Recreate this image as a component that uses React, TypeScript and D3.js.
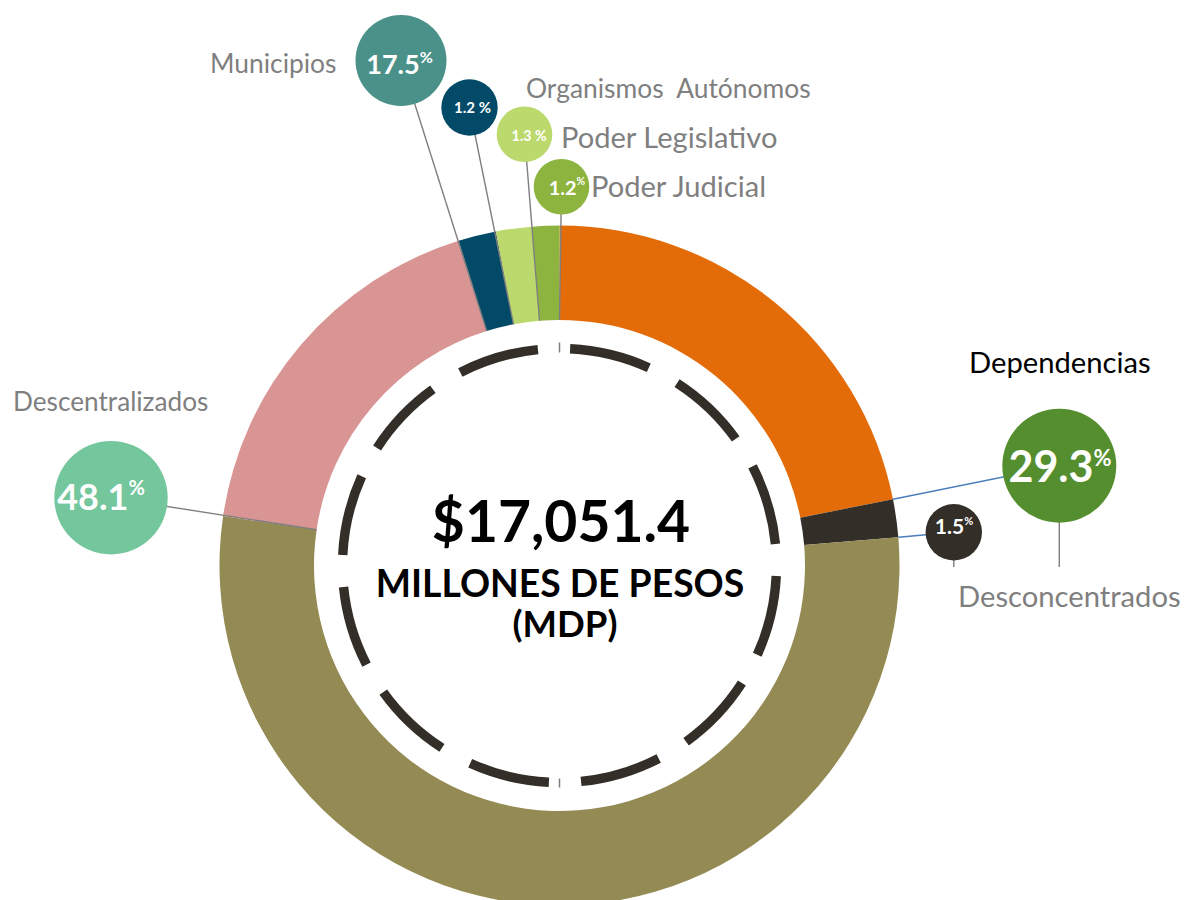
import React from "react";
import * as d3 from "d3";

// slices as drawn in the ring, clockwise from 12 o'clock
const categories = [
  "Dependencias",
  "Desconcentrados",
  "Descentralizados",
  "Municipios",
  "Organismos  Autónomos",
  "Poder Legislativo",
  "Poder Judicial",
];
const ringShares = [21.9, 1.8, 53.7, 17.9, 1.8, 1.7, 1.3];
const labelPercents = ["29.3", "1.5", "48.1", "17.5", "1.2", "1.3", "1.2"];
const totalAmount = "$17,051.4";
const totalUnits = ["MILLONES DE PESOS", "(MDP)"];

const W = 1186;
const H = 900;
const cx = 559.5;
const cy = 565.5;
const outerR = 340;
const innerR = 245.5;
const dashR = 217;

const sliceColors = ["#e36c09", "#332e27", "#948a54", "#d99594", "#024a68", "#bcd96d", "#8db43e"];
const bubbleColors = ["#558e2f", "#332e27", "#74c69d", "#4a9189", "#024a68", "#bcd96d", "#8db43e"];

// bubble layout: centre, radius, connector target ("in"/"out" edge of ring), line colour
const bubbles = [
  { x: 1059.3, y: 465.7, r: 57, edge: "out", line: "#4a7ebb", fs: 43, ps: 22, pdy: -16, tx: 1060, ty: 481.7, sup: true },
  { x: 953.8, y: 532.3, r: 28.2, edge: "out", line: "#4a7ebb", fs: 21, ps: 11, pdy: -9.5, tx: 954, ty: 534, sup: true },
  { x: 111, y: 497.7, r: 56.7, edge: "in", line: "#7f7f7f", fs: 36, ps: 20, pdy: -15, tx: 101, ty: 510, sup: true },
  { x: 401, y: 60.5, r: 45.5, edge: "in", line: "#7f7f7f", fs: 27, ps: 16, pdy: -11, tx: 399.5, ty: 74.3, sup: true },
  { x: 469.5, y: 107.5, r: 28.2, edge: "in", line: "#7f7f7f", fs: 15, ps: 15, pdy: 0, tx: 472.5, ty: 112.5, sup: false },
  { x: 524.5, y: 134.3, r: 27.8, edge: "in", line: "#7f7f7f", fs: 14.3, ps: 14.3, pdy: 0, tx: 529.2, ty: 141, sup: false },
  { x: 561.5, y: 186.7, r: 27.8, edge: "in", line: "#7f7f7f", fs: 19.8, ps: 10.5, pdy: -10, tx: 567, ty: 195, sup: true },
];

// category names placement
const names = [
  { x: 969, y: 373, size: 29.2, fill: "#000000" },
  { x: 958, y: 607, size: 29.2, fill: "#7f7f7f" },
  { x: 13, y: 411, size: 26.2, fill: "#7f7f7f" },
  { x: 210, y: 73, size: 26.4, fill: "#7f7f7f" },
  { x: 526, y: 98, size: 26.4, fill: "#7f7f7f" },
  { x: 561, y: 148, size: 29.1, fill: "#7f7f7f" },
  { x: 591, y: 196.5, size: 29.1, fill: "#7f7f7f" },
];

const FONT = "Lato, 'Open Sans', sans-serif";

const App = () => {
  const pie = d3.pie<number>().sort(null).value((d) => d)(ringShares);
  const arc = d3.arc<d3.PieArcDatum<number>>().innerRadius(innerR).outerRadius(outerR);
  const pt = (a: number, r: number) => [cx + r * Math.sin(a), cy - r * Math.cos(a)];

  const rad = (deg: number) => (deg * Math.PI) / 180;
  const dashArc = d3.arc().innerRadius(dashR - 4.7).outerRadius(dashR + 4.7);
  const dashes = d3.range(12).map((k) => {
    const s = rad(2.8 + 30 * k);
    return dashArc({ startAngle: s, endAngle: s + rad(21.5), innerRadius: 0, outerRadius: 0 } as any) as string;
  });

  return (
    <svg width={W} height={H} viewBox={`0 0 ${W} ${H}`} style={{ position: "absolute", left: 0, top: 0, background: "#fff" }}>
      <g transform={`translate(${cx},${cy})`}>
        {pie.map((d, i) => (
          <path key={i} d={arc(d) as string} fill={sliceColors[i]} />
        ))}
        {dashes.map((d, i) => (
          <path key={i} d={d} fill="#332e27" />
        ))}
        <line x1={0} x2={0} y1={-dashR - 6} y2={-dashR + 4} stroke="#7f7f7f" strokeWidth={1.5} />
        <line x1={0} x2={0} y1={dashR - 4} y2={dashR + 5} stroke="#7f7f7f" strokeWidth={1.5} />
      </g>

      {/* connectors */}
      {bubbles.map((b, i) => {
        const [ex, ey] = pt(pie[i].endAngle, b.edge === "out" ? outerR : innerR);
        return <line key={i} x1={b.x} y1={b.y} x2={ex} y2={ey} stroke={b.line} strokeWidth={1.4} />;
      })}
      <line x1={1059.3} x2={1059.3} y1={520} y2={567} stroke="#7f7f7f" strokeWidth={1.4} />
      <line x1={953.8} x2={953.8} y1={558} y2={567} stroke="#7f7f7f" strokeWidth={1.4} />

      {/* bubbles */}
      {bubbles.map((b, i) => (
        <g key={i}>
          <circle cx={b.x} cy={b.y} r={b.r} fill={bubbleColors[i]} />
          <text x={b.tx} y={b.ty} textAnchor="middle" fill="#fff" fontFamily={FONT} fontWeight={700} fontSize={b.fs}>
            {b.sup ? (
              <>
                {labelPercents[i]}
                <tspan fontSize={b.ps} dy={b.pdy}>%</tspan>
              </>
            ) : (
              `${labelPercents[i]} %`
            )}
          </text>
        </g>
      ))}

      {/* names */}
      {names.map((n, i) => (
        <text key={i} x={n.x} y={n.y} fill={n.fill} fontFamily={FONT} fontSize={n.size} style={{ whiteSpace: "pre" }}>
          {categories[i]}
        </text>
      ))}

      {/* centre */}
      <text x={cx + 1.5} y={541.7} textAnchor="middle" fontFamily={FONT} fontWeight={700} fontSize={57} fill="#000">
        {totalAmount}
      </text>
      <text x={cx + 0.5} y={596.7} textAnchor="middle" fontFamily={FONT} fontWeight={700} fontSize={37.3} fill="#000">
        {totalUnits[0]}
      </text>
      <text x={cx + 5.5} y={636.7} textAnchor="middle" fontFamily={FONT} fontWeight={700} fontSize={36.5} fill="#000">
        {totalUnits[1]}
      </text>
    </svg>
  );
};

export default App;
